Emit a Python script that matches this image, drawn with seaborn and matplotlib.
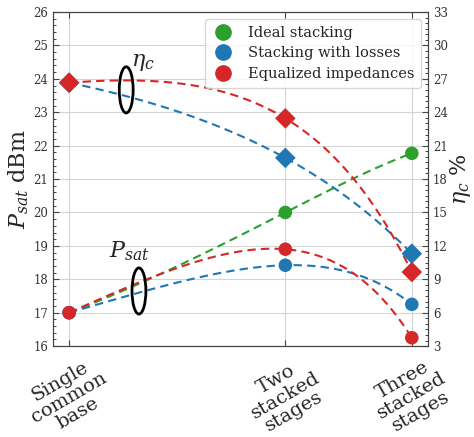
import numpy as np
import pandas as pd
import matplotlib.pyplot as plt
import seaborn as sns
from matplotlib.lines import Line2D
from matplotlib.patches import Ellipse
from matplotlib.ticker import AutoMinorLocator, FixedLocator, NullLocator

stages = [1, 2, 3]
stage_labels = ["Single\ncommon\nbase", "Two\nstacked\nstages", "Three\nstacked\nstages"]

# P_sat in dBm (left axis)
psat_ideal = [17.0, 20.0, 21.77]
psat_losses = [17.0, 18.42, 17.25]
psat_equal = [17.0, 18.9, 16.25]

# collector efficiency in % (right axis)
eta_losses = [26.65, 19.9, 11.3]
eta_equal = [26.65, 23.45, 9.65]

green, blue, red = "#2ca02c", "#1f77b4", "#d62728"

sns.set_style("whitegrid", {
    "axes.edgecolor": "#444444",
    "grid.color": "#d4d4d4",
    "xtick.direction": "in",
    "ytick.direction": "in",
})
plt.rcParams["font.family"] = ["DejaVu Serif"]
plt.rcParams["mathtext.fontset"] = "dejavuserif"


def smooth(y):
    # quadratic through the three points, for the dashed guide curves
    c = np.polyfit(stages, y, 2)
    xs = np.geomspace(stages[0], stages[-1], 120)
    return pd.DataFrame({"x": xs, "y": np.polyval(c, xs)})


fig = plt.figure(figsize=(4.74, 4.37), dpi=100)
ax = fig.add_axes([0.112, 0.208, 0.791, 0.7645])
ax2 = ax.twinx()

for y, col in [(psat_ideal, green), (psat_losses, blue), (psat_equal, red)]:
    d = smooth(y)
    sns.lineplot(data=d, x="x", y="y", ax=ax, color=col, lw=1.5,
                 linestyle=(0, (4, 2.5)), zorder=2)
for y, col in [(eta_losses, blue), (eta_equal, red)]:
    d = smooth(y)
    sns.lineplot(data=d, x="x", y="y", ax=ax2, color=col, lw=1.5,
                 linestyle=(0, (4, 2.5)), zorder=2)

for y, col in [(psat_ideal, green), (psat_losses, blue), (psat_equal, red)]:
    sns.scatterplot(x=stages, y=y, ax=ax, color=col, s=95, marker="o",
                    edgecolor="none", zorder=3)
for y, col in [(eta_losses, blue), (eta_equal, red)]:
    sns.scatterplot(x=stages, y=y, ax=ax2, color=col, s=110, marker="D",
                    edgecolor="none", zorder=3)

ax.set_xscale("log")
ax.set_xlim(0.95, 3.16)
ax.set_ylim(16, 26)
ax2.set_ylim(3, 33)
ax.xaxis.set_major_locator(FixedLocator(stages))
ax.xaxis.set_minor_locator(NullLocator())
ax.set_xticklabels(stage_labels, rotation=30, ha="center", fontsize=14,
                   multialignment="center", linespacing=1.0)
ax.set_yticks(range(16, 27))
ax2.set_yticks(range(3, 34, 3))
ax.yaxis.set_minor_locator(AutoMinorLocator(5))
ax2.yaxis.set_minor_locator(AutoMinorLocator(6))
ax2.grid(False)

ax.tick_params(axis="y", labelsize=8.5, labelcolor="#333333", length=4,
               color="#444444", left=True, right=False)
ax.tick_params(axis="y", which="minor", length=2, left=True, right=False)
ax.tick_params(axis="x", length=4, top=True, bottom=True, pad=5,
               color="#444444")
ax2.tick_params(axis="y", labelsize=8.5, labelcolor="#333333", length=4,
                color="#444444", right=True)
ax2.tick_params(axis="y", which="minor", length=2, right=True)

ax.set_xlabel("")
ax.set_ylabel(r"$P_{sat}$ dBm", fontsize=16, labelpad=2)
ax2.set_ylabel(r"$\eta_c$ %", fontsize=16, labelpad=0)

for cx, cy in [(0.195, 0.767), (0.229, 0.165)]:
    ax.add_patch(Ellipse((cx, cy), 0.037, 0.138, transform=ax.transAxes,
                         fill=False, edgecolor="black", lw=2, zorder=4))
fig.text(143 / 474, 1 - 62 / 437, r"$\eta_c$", fontsize=16, ha="center", va="center")
fig.text(129 / 474, 1 - 251 / 437, r"$P_{sat}$", fontsize=16, ha="center", va="center")

handles = [Line2D([], [], marker="o", color=c, ls="none", markersize=11)
           for c in (green, blue, red)]
ax2.legend(handles, ["Ideal stacking", "Stacking with losses", "Equalized impedances"],
           loc="upper right", fontsize=10.5, frameon=True, handletextpad=0.9,
           handlelength=1.6, labelspacing=0.45, borderpad=0.45)

fig.savefig("out.png", dpi=100)
